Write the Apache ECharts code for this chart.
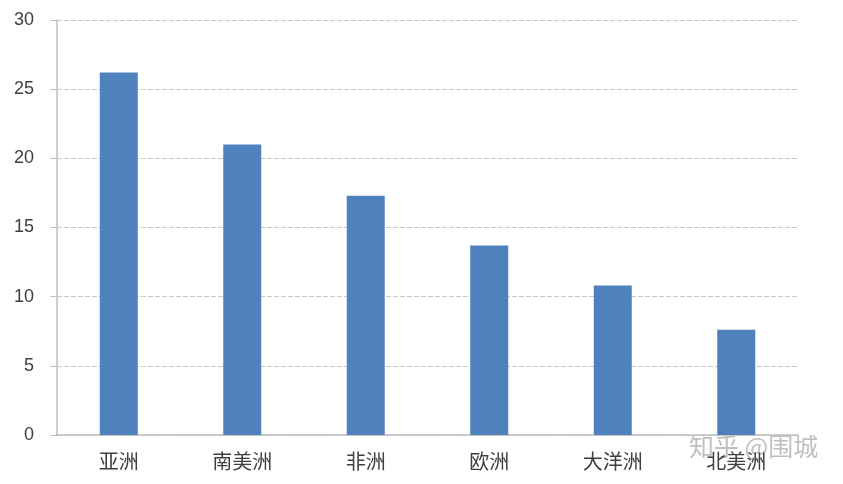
<!DOCTYPE html>
<html><head><meta charset="utf-8">
<script src="https://cdn.jsdelivr.net/npm/echarts@6/dist/echarts.min.js"></script>
<style>html,body{margin:0;padding:0;background:#fff}#c{width:843px;height:484px}</style>
</head><body><div id="c"></div>
<script>
const categories = ['亚洲','南美洲','非洲','欧洲','大洋洲','北美洲'];
const values = [26.2, 21.0, 17.3, 13.7, 10.8, 7.6];
const chart = echarts.init(document.getElementById('c'));
chart.setOption({
  animation:false,
  grid:{left:57,right:45,top:20,bottom:49},
  xAxis:{type:'category',data:categories,
    axisLine:{lineStyle:{color:'#bfbfbf',width:1.5}},
    axisTick:{show:false},
    axisLabel:{color:'#404040',fontSize:20,margin:16,fontFamily:'Noto Sans CJK SC'}},
  yAxis:{type:'value',min:0,max:30,interval:5,
    axisLine:{show:true,lineStyle:{color:'#bfbfbf',width:1.5}},
    axisTick:{show:true,length:7,lineStyle:{color:'#bfbfbf'}},
    axisLabel:{color:'#404040',fontSize:18,margin:23,fontFamily:'Liberation Sans'},
    splitLine:{lineStyle:{color:'#c8c8c8',type:[5,2],width:1.2}}},
  series:[{type:'bar',data:values,barWidth:38,itemStyle:{color:'#4f81bd'}}],
  graphic:[{type:'text',left:689,top:434,style:{text:'知乎 @围城',fill:'rgba(170,170,170,0.75)',fontSize:25,fontFamily:'Noto Sans CJK SC'}}]
});
</script></body></html>
